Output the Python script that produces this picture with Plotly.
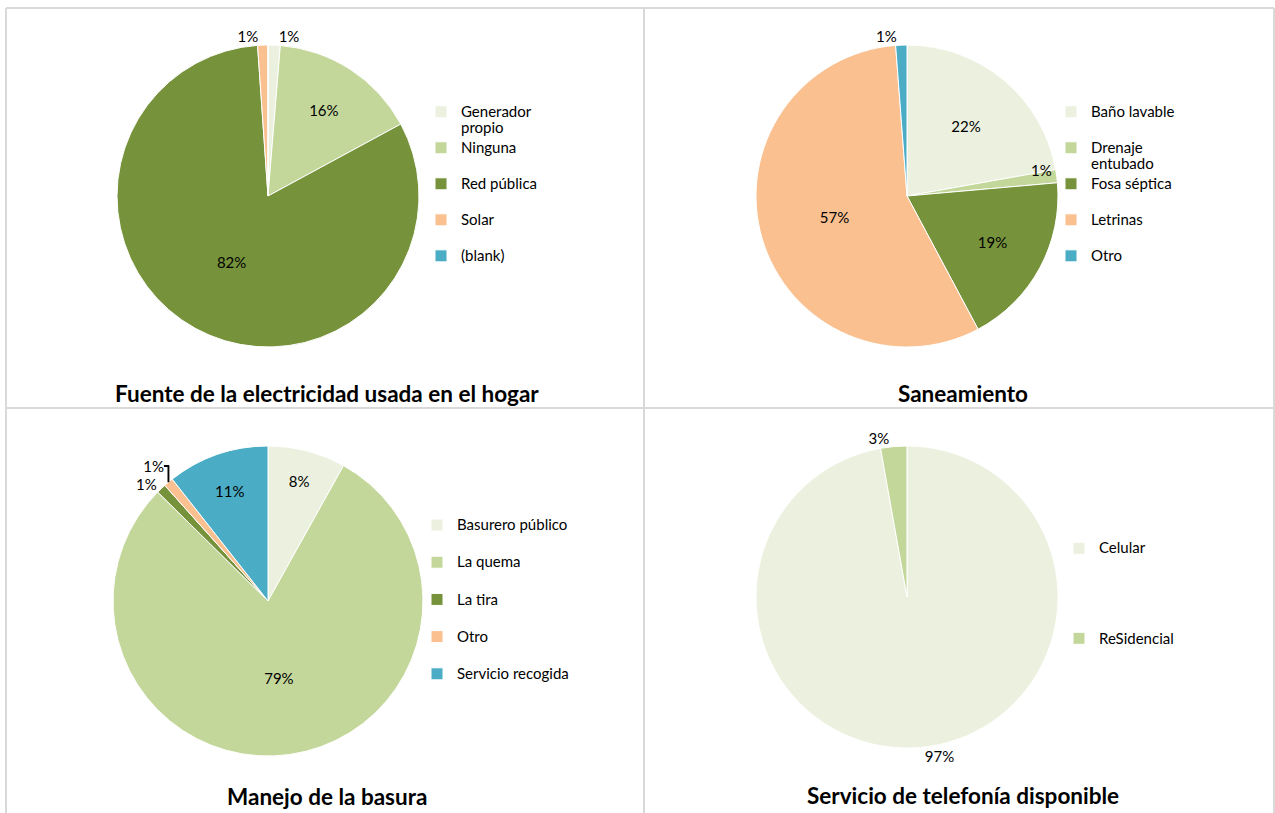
import math
import plotly.graph_objects as go

W, H = 1275, 813

# colores tipo Excel
COLORES = ["#EBF1DE", "#C4D79B", "#76933C", "#FAC090", "#4BACC6"]

# --- datos ---
elec_labels = ["Generador propio", "Ninguna", "Red pública", "Solar", "(blank)"]
elec_values = [1.3, 15.8, 81.8, 1.1, 0.0]
elec_pos = ["outside", "inside", "inside", "outside", "none"]

san_labels = ["Baño lavable", "Drenaje entubado", "Fosa séptica", "Letrinas", "Otro"]
san_values = [22.2, 1.4, 18.6, 56.6, 1.2]
san_pos = ["inside", "none", "inside", "inside", "outside"]

bas_labels = ["Basurero público", "La quema", "La tira", "Otro", "Servicio recogida"]
bas_values = [8.1, 79.3, 1.0, 1.0, 10.6]
bas_pos = ["inside", "inside", "outside", "outside", "inside"]

tel_labels = ["Celular", "ReSidencial"]
tel_values = [97.2, 2.8]
tel_pos = ["outside", "outside"]

titulos = [
    "Fuente de la electricidad usada en el hogar",
    "Saneamiento",
    "Manejo de la basura",
    "Servicio de telefonía disponible",
]

LEY_TXT = 15      # tamaño real del texto de leyenda


def px2x(p):
    return p / W


def px2y(p):
    return 1 - p / H


def leyenda(labels, k, extra=1):
    """Etiquetas de leyenda: texto grande, lineas vacias para el espaciado.
    Se agregan k espacios de ancho cero para que no se fusionen entre pasteles."""
    out = []
    for lab in labels:
        if lab in ("Generador propio", "Drenaje entubado"):
            txt = lab.replace(" ", "<br>", 1)
            txt = "<br>".join(f"<span style='font-size:{LEY_TXT}px'>{p}</span>" for p in txt.split("<br>"))
        else:
            txt = f"<span style='font-size:{LEY_TXT}px'>{lab}</span>" + "<br> " * extra
        out.append(txt + "\u200b" * k)
    return out


def pastel(labels, values, pos, dom_px, legend_id, k, extra=1):
    x0, x1, y0, y1 = dom_px
    return go.Pie(
        labels=leyenda(labels, k, extra), values=values,
        marker=dict(colors=COLORES[:len(labels)], line=dict(color="white", width=1)),
        sort=False, direction="clockwise", rotation=0,
        textposition=pos, texttemplate="%{percent:.0%}",
        textfont=dict(family="Lato", size=15, color="#000000"),
        domain=dict(x=[px2x(x0), px2x(x1)], y=[px2y(y1), px2y(y0)]),
        legend=legend_id, showlegend=True,
        hovertemplate="%{label}: %{value}<extra></extra>",
    )


dom_san = (756, 1058, 45, 347)

fig = go.Figure()
fig.add_trace(pastel(elec_labels, elec_values, elec_pos, (117, 419, 45, 347), "legend", 0))
fig.add_trace(pastel(san_labels, san_values, san_pos, dom_san, "legend2", 1))
fig.add_trace(pastel(bas_labels, bas_values, bas_pos, (113, 423, 446, 756), "legend3", 2))
fig.add_trace(pastel(tel_labels, tel_values, tel_pos, (756, 1058, 446, 748), "legend4", 3, extra=4))


def ley(size, x, y):
    return dict(font=dict(family="Lato", size=size, color="#000000"), bgcolor="rgba(0,0,0,0)",
                xanchor="left", yanchor="top", valign="top", itemclick=False,
                x=px2x(x), y=px2y(y))


fig.update_layout(
    width=W, height=H,
    margin=dict(l=0, r=0, t=0, b=0),
    paper_bgcolor="white",
    font=dict(family="Lato", size=14, color="#000000"),
    legend=ley(12.7, 421, 97),
    legend2=ley(12.7, 1051, 97),
    legend3=ley(13.15, 417, 510),
    legend4=ley(13.4, 1059, 533),
)

# etiqueta de la rebanada delgada "Drenaje entubado", dentro del borde como en Excel
cx = (dom_san[0] + dom_san[1]) / 2
cy = (dom_san[2] + dom_san[3]) / 2
R = (dom_san[1] - dom_san[0]) / 2
tot = sum(san_values)
i = 1
frac_mid = (sum(san_values[:i]) + san_values[i] / 2) / tot
ang = 2 * math.pi * frac_mid - 0.06
lx, ly = cx + 0.91 * R * math.sin(ang), cy - 0.91 * R * math.cos(ang)
fig.add_annotation(text=f"{round(san_values[i] / tot * 100)}%", x=px2x(lx), y=px2y(ly),
                   xref="paper", yref="paper", xanchor="center", yanchor="middle",
                   showarrow=False, font=dict(family="Lato", size=15, color="#000000"))

# titulos de cada panel
pos_tit = [(327, 393), (963, 393), (327, 796), (963, 795)]
for t, (tx, ty) in zip(titulos, pos_tit):
    fig.add_annotation(text=f"<b>{t}</b>", x=px2x(tx), y=px2y(ty), xref="paper", yref="paper",
                       xanchor="center", yanchor="middle", showarrow=False,
                       font=dict(family="Lato", size=22.5, color="#000000"))

# bordes de los paneles
gris = dict(color="#D9D9D9", width=2)
for x0, y0, x1, y1 in [(6, 8, 1274, 8), (6, 8, 6, 813), (1274, 8, 1274, 813),
                       (644, 8, 644, 813), (6, 408, 1274, 408)]:
    fig.add_shape(type="line", xref="paper", yref="paper",
                  x0=px2x(x0), x1=px2x(x1), y0=px2y(y0), y1=px2y(y1), line=gris)

fig.write_html("out.html", config={"displayModeBar": False},
               post_script="document.body.style.margin='0px';")
